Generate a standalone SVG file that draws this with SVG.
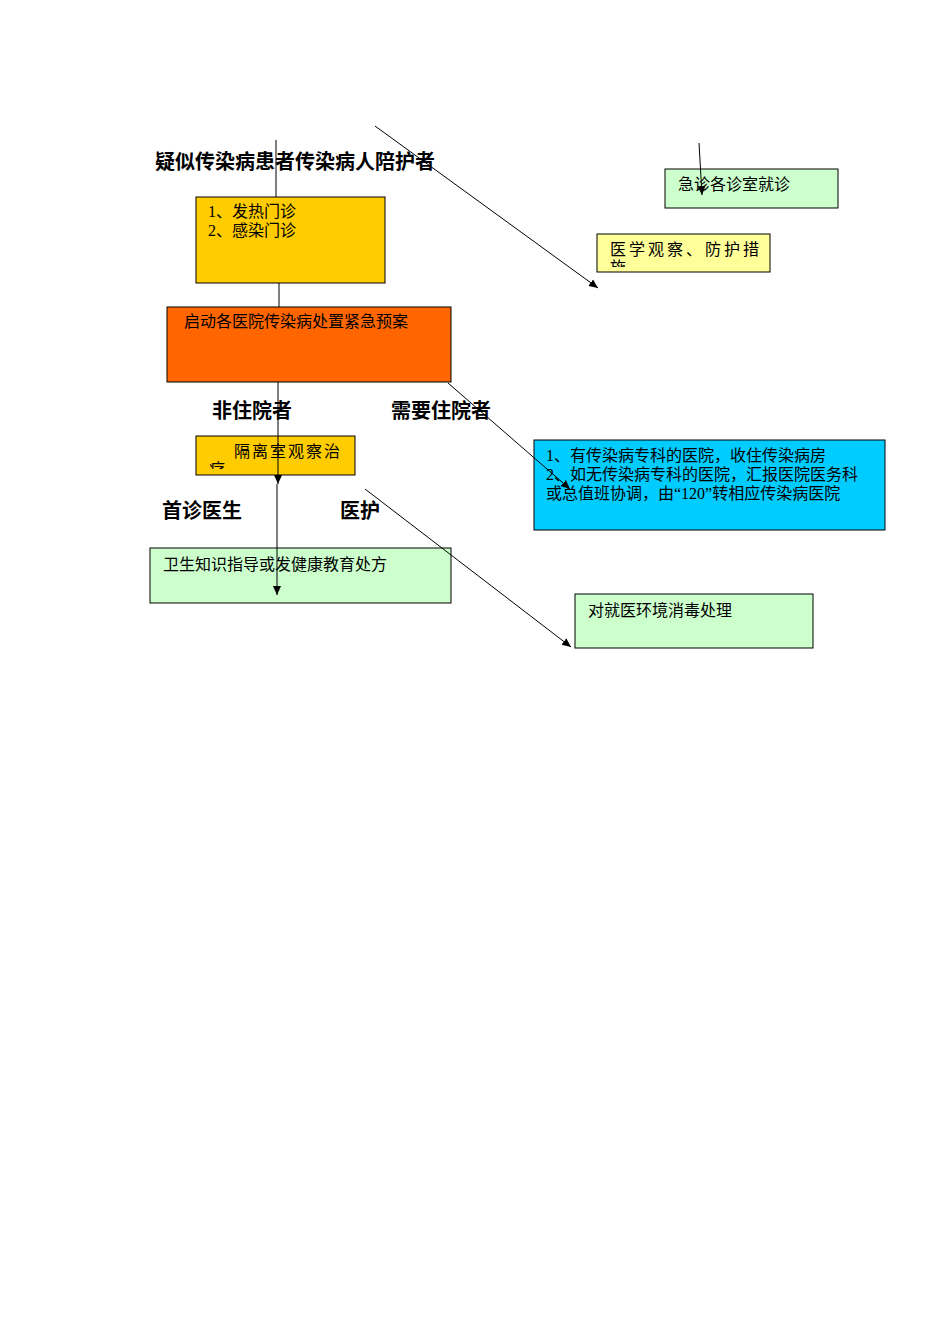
<svg xmlns="http://www.w3.org/2000/svg" width="950" height="1344" viewBox="0 0 950 1344">
<style>
.b{stroke:#000;stroke-width:1}
.t{font-family:"Liberation Serif","Noto Sans CJK SC",serif;font-size:16px;fill:#000}
.h{font-family:"Liberation Sans","Noto Sans CJK SC",sans-serif;font-size:20px;font-weight:bold;fill:#000}
.c{stroke:#000;stroke-width:1;fill:none}
</style>
<defs>
<marker id="a" markerWidth="10" markerHeight="10" refX="9" refY="5" orient="auto" markerUnits="userSpaceOnUse"><path d="M0,1 L9,5 L0,9 Z" fill="#000"/></marker>
<clipPath id="k1"><rect x="196" y="436" width="159" height="33"/></clipPath>
<clipPath id="k2"><rect x="597" y="234" width="173" height="33"/></clipPath>
</defs>
<rect width="950" height="1344" fill="#fff"/>
<text class="h" x="155" y="169">疑似传染病患者传染病人陪护者</text>
<text class="h" x="212" y="418">非住院者</text>
<text class="h" x="391" y="418">需要住院者</text>
<text class="h" x="162" y="518">首诊医生</text>
<text class="h" x="340" y="518">医护</text>
<g id="n1"><rect class="b" x="196" y="197" width="189" height="86" fill="#FFCC00"/><text class="t" x="208" y="217">1、发热门诊</text><text class="t" x="208" y="236">2、感染门诊</text></g>
<g id="n2"><rect class="b" x="167" y="307" width="284" height="75" fill="#FF6600"/><text class="t" x="184" y="327">启动各医院传染病处置紧急预案</text></g>
<g id="n3"><rect class="b" x="665" y="169" width="173" height="39" fill="#CCFFCC"/><text class="t" x="678" y="190">急诊各诊室就诊</text></g>
<g id="n4"><rect class="b" x="597" y="234" width="173" height="38" fill="#FFFF99"/><g clip-path="url(#k2)"><text class="t" x="610" y="255" letter-spacing="3">医学观察、防护措</text><text class="t" x="610" y="273">施</text></g></g>
<g id="n5"><rect class="b" x="196" y="436" width="159" height="39" fill="#FFCC00"/><g clip-path="url(#k1)"><text class="t" x="234" y="457" letter-spacing="2">隔离室观察治</text><text class="t" x="209" y="475">疗</text></g></g>
<g id="n6"><rect class="b" x="534" y="440" width="351" height="90" fill="#00CCFF"/><text class="t" x="546" y="461">1、有传染病专科的医院，收住传染病房</text><text class="t" x="546" y="480">2、如无传染病专科的医院，汇报医院医务科</text><text class="t" x="546" y="499">或总值班协调，由“120”转相应传染病医院</text></g>
<g id="n7"><rect class="b" x="150" y="548" width="301" height="55" fill="#CCFFCC"/><text class="t" x="163" y="570">卫生知识指导或发健康教育处方</text></g>
<g id="n8"><rect class="b" x="575" y="594" width="238" height="54" fill="#CCFFCC"/><text class="t" x="588" y="616">对就医环境消毒处理</text></g>
<g id="connectors">
<line class="c" x1="276" y1="140" x2="276" y2="197"/>
<line class="c" x1="279" y1="283" x2="279" y2="307"/>
<line class="c" x1="375" y1="126" x2="598" y2="288" marker-end="url(#a)"/>
<line class="c" x1="699" y1="143" x2="702" y2="195" marker-end="url(#a)"/>
<line class="c" x1="448" y1="383" x2="570" y2="489" marker-end="url(#a)"/>
<line class="c" x1="278" y1="382" x2="278" y2="484" marker-end="url(#a)"/>
<line class="c" x1="277" y1="484" x2="277" y2="595" marker-end="url(#a)"/>
<line class="c" x1="365" y1="489" x2="571" y2="647" marker-end="url(#a)"/>
</g>
</svg>
